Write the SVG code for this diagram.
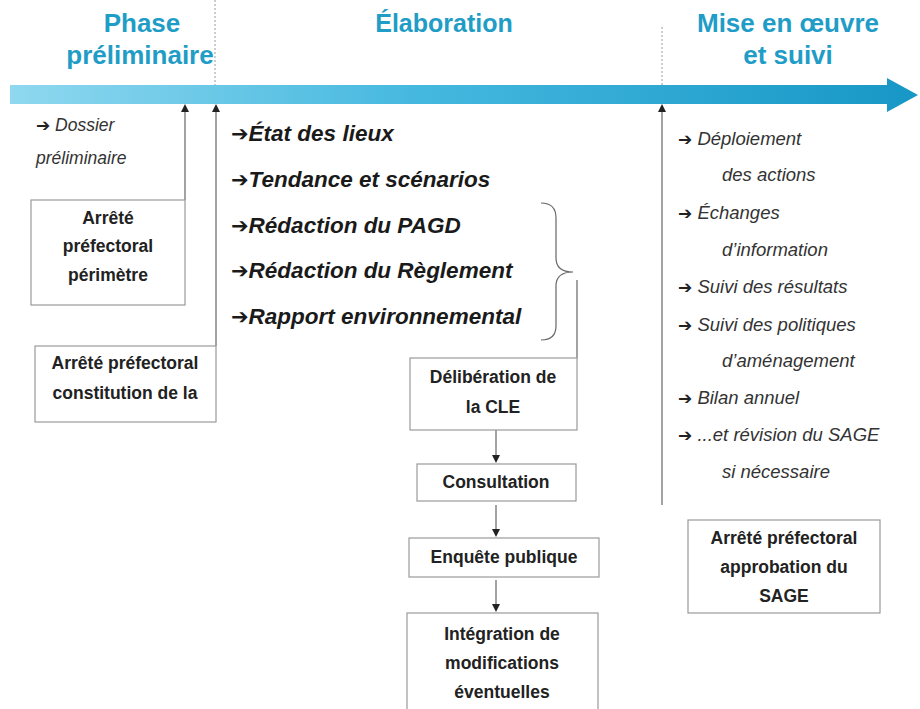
<svg xmlns="http://www.w3.org/2000/svg" width="920" height="709" viewBox="0 0 920 709">
<defs>
<linearGradient id="bar" x1="10" y1="0" x2="918" y2="0" gradientUnits="userSpaceOnUse">
<stop offset="0" stop-color="#8fd8ef"/>
<stop offset="0.45" stop-color="#45b8df"/>
<stop offset="1" stop-color="#1797c6"/>
</linearGradient>
<marker id="ah" markerWidth="8" markerHeight="8" refX="4" refY="4" orient="auto" markerUnits="userSpaceOnUse">
<path d="M0,0 L8,4 L0,8 z" fill="#222"/>
</marker>
<style>
.title{font-family:"Liberation Sans",Arial,sans-serif;font-weight:bold;font-size:26px;fill:#1f9dc6;text-anchor:middle}
.box{fill:#fff;stroke:#9a9a9a;stroke-width:1.2}
.bt{font-family:"Liberation Sans",Arial,sans-serif;font-weight:bold;font-size:17.5px;fill:#222;text-anchor:middle}
.it{font-family:"Liberation Sans",Arial,sans-serif;font-style:italic;font-size:18.5px;fill:#333}
.el{font-family:"Liberation Sans",Arial,sans-serif;font-style:italic;font-weight:bold;font-size:22.5px;fill:#1a1a1a}
.ar{font-family:"DejaVu Sans",sans-serif;font-style:normal;font-weight:bold;font-size:17px;fill:#222}
.ar2{font-family:"DejaVu Sans",sans-serif;font-style:normal;font-weight:bold;font-size:21px}
.ln{stroke:#666;stroke-width:1.2;fill:none}
.dash{stroke:#9a9a9a;stroke-width:1;stroke-dasharray:2 2;fill:none}
</style>
</defs>

<g id="timeline">
<path d="M10,85 L887,85 L887,78 L918,95 L887,112 L887,104 L10,104 z" fill="url(#bar)"/>
</g>

<g id="headers">
<text class="title" x="142" y="32">Phase</text>
<text class="title" x="140" y="64">préliminaire</text>
<text class="title" x="444" y="32" style="font-size:25px">Élaboration</text>
<text class="title" x="788" y="32">Mise en œuvre</text>
<text class="title" x="788" y="64">et suivi</text>
</g>

<g id="connectors">
<line class="dash" x1="215" y1="0" x2="215" y2="85"/>
<line class="dash" x1="662" y1="27" x2="662" y2="85"/>
<line class="ln" x1="185" y1="200" x2="185" y2="108" marker-end="url(#ah)"/>
<line class="ln" x1="216" y1="346" x2="216" y2="108" marker-end="url(#ah)"/>
<line class="ln" x1="662" y1="505" x2="662" y2="108" marker-end="url(#ah)"/>
<path class="ln" d="M541,203 Q556,203 556,218 L556,258 Q556,272 573,272 Q556,272 556,286 L556,326 Q556,340 541,340"/>
<line class="ln" x1="577" y1="280" x2="577" y2="358"/>
<line class="ln" x1="496" y1="430" x2="496" y2="459" marker-end="url(#ah)"/>
<line class="ln" x1="496" y1="505" x2="496" y2="533" marker-end="url(#ah)"/>
<line class="ln" x1="496" y1="580" x2="496" y2="608" marker-end="url(#ah)"/>
</g>

<g id="dossier">
<text class="it" x="36" y="131" style="font-size:17.5px"><tspan class="ar">➔</tspan> Dossier</text>
<text class="it" x="36" y="164" style="font-size:17.5px">préliminaire</text>
</g>

<g id="arrete-perimetre">
<rect class="box" x="31" y="200" width="154" height="105"/>
<text class="bt" x="108" y="224">Arrêté</text>
<text class="bt" x="108" y="252">préfectoral</text>
<text class="bt" x="108" y="281">périmètre</text>
</g>

<g id="arrete-constitution">
<rect class="box" x="35" y="346" width="181" height="76"/>
<text class="bt" x="125" y="369">Arrêté préfectoral</text>
<text class="bt" x="125" y="399">constitution de la</text>
</g>

<g id="elaboration-list">
<text class="el" x="231" y="141"><tspan class="ar2">➔</tspan>État des lieux</text>
<text class="el" x="231" y="187"><tspan class="ar2">➔</tspan>Tendance et scénarios</text>
<text class="el" x="231" y="233"><tspan class="ar2">➔</tspan>Rédaction du PAGD</text>
<text class="el" x="231" y="278"><tspan class="ar2">➔</tspan>Rédaction du Règlement</text>
<text class="el" x="231" y="324"><tspan class="ar2">➔</tspan>Rapport environnemental</text>
</g>

<g id="deliberation">
<rect class="box" x="410" y="358" width="167" height="72"/>
<text class="bt" x="493" y="383">Délibération de</text>
<text class="bt" x="493" y="413">la CLE</text>
</g>

<g id="consultation">
<rect class="box" x="417" y="464" width="159" height="37"/>
<text class="bt" x="496" y="488">Consultation</text>
</g>

<g id="enquete">
<rect class="box" x="409" y="538" width="190" height="39"/>
<text class="bt" x="504" y="563">Enquête publique</text>
</g>

<g id="integration">
<rect class="box" x="407" y="613" width="191" height="100"/>
<text class="bt" x="502" y="640">Intégration de</text>
<text class="bt" x="502" y="669">modifications</text>
<text class="bt" x="502" y="698">éventuelles</text>
</g>

<g id="suivi-list">
<text class="it" x="678" y="145"><tspan class="ar">➔</tspan> Déploiement</text>
<text class="it" x="722" y="181">des actions</text>
<text class="it" x="678" y="219"><tspan class="ar">➔</tspan> Échanges</text>
<text class="it" x="722" y="256">d’information</text>
<text class="it" x="678" y="293"><tspan class="ar">➔</tspan> Suivi des résultats</text>
<text class="it" x="678" y="331"><tspan class="ar">➔</tspan> Suivi des politiques</text>
<text class="it" x="722" y="367">d’aménagement</text>
<text class="it" x="678" y="404"><tspan class="ar">➔</tspan> Bilan annuel</text>
<text class="it" x="678" y="441"><tspan class="ar">➔</tspan> ...et révision du SAGE</text>
<text class="it" x="722" y="478">si nécessaire</text>
</g>

<g id="arrete-approbation">
<rect class="box" x="688" y="520" width="192" height="93"/>
<text class="bt" x="784" y="544">Arrêté préfectoral</text>
<text class="bt" x="784" y="573">approbation du</text>
<text class="bt" x="784" y="602">SAGE</text>
</g>
</svg>
